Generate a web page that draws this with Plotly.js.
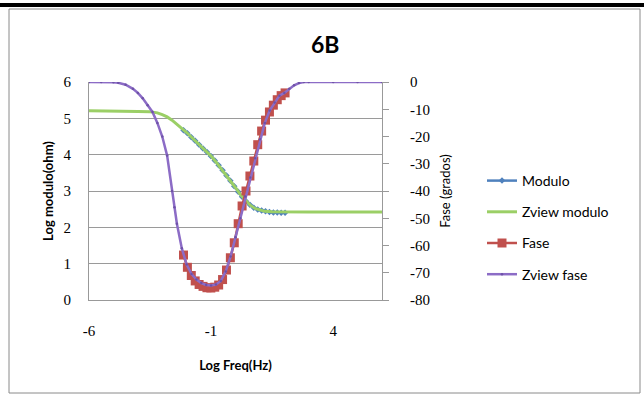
<!DOCTYPE html>
<html>
<head>
<meta charset="utf-8">
<script src="https://cdn.plot.ly/plotly-3.0.1.min.js"></script>
<style>html,body{margin:0;padding:0;background:#fff;}#chart{width:644px;height:394px;}</style>
</head>
<body>
<div id="chart"></div>
<script>
// Measured data (Log Freq in Hz)
const measX = [-2.13,-1.97,-1.81,-1.65,-1.49,-1.33,-1.17,-1.01,-0.85,-0.69,-0.53,-0.37,-0.21,-0.05,0.11,0.27,0.43,0.59,0.75,0.91,1.07,1.23,1.39,1.55,1.71,1.87,2.03];
const moduloY = [4.67,4.59,4.48,4.38,4.27,4.17,4.07,3.96,3.84,3.71,3.57,3.43,3.28,3.13,2.98,2.84,2.72,2.62,2.54,2.49,2.46,2.44,2.42,2.41,2.41,2.40,2.40];
const faseY = [-63.5,-68,-71,-73,-74.3,-75,-75.5,-75.6,-75.3,-74.5,-72.5,-69,-64.5,-59,-52,-45.5,-40,-34.5,-29,-23,-18,-14,-11,-8.5,-6.5,-5,-4];

// Zview fitted curves
const zvModX = [-6,-5,-4.5,-4,-3.5,-3.2,-3.0,-2.8,-2.6,-2.4,-2.2,-2.0,-1.8,-1.6,-1.4,-1.2,-1.0,-0.8,-0.6,-0.4,-0.2,0.0,0.2,0.4,0.6,0.8,1.0,1.2,1.5,2.0,3,4,5,6];
const zvModY = [5.21,5.21,5.20,5.19,5.18,5.15,5.10,5.04,4.95,4.84,4.72,4.61,4.48,4.35,4.22,4.09,3.96,3.80,3.63,3.45,3.27,3.09,2.90,2.74,2.61,2.52,2.47,2.44,2.43,2.42,2.42,2.42,2.42,2.42];
const zvFaseX = [-6,-5.5,-5,-4.8,-4.5,-4.2,-4.0,-3.8,-3.6,-3.4,-3.2,-3.0,-2.8,-2.6,-2.5,-2.4,-2.2,-2.0,-1.8,-1.6,-1.4,-1.2,-1.0,-0.8,-0.6,-0.4,-0.2,0.0,0.2,0.4,0.6,0.8,1.0,1.2,1.4,1.6,1.8,2.0,2.2,2.4,2.6,2.8,3,4,5,6];
const zvFaseY = [0,0,-0.1,-0.3,-1,-2.5,-4,-6,-8.5,-11,-15,-20,-27,-40,-46,-52,-61,-67,-70.5,-72.5,-73.8,-74.5,-74.7,-74.3,-73,-69.5,-64,-57,-50,-42,-35,-28,-21,-15,-10.5,-7.5,-5,-4,-2.5,-1.2,-0.4,0,0,0,0,0];

// Axis ticks
const xTicks = [-6,-1,4];
const yTicks = [0,1,2,3,4,5,6];
const y2Ticks = [0,-10,-20,-30,-40,-50,-60,-70,-80];

const L=89,R=382,T=82,B=300;
const px = x => (x-L)/(R-L);
const py = y => (B-y)/(B-T);

const serif = {family:'"Liberation Serif", serif', size:15, color:'#000'};
const sans = 'Lato, "Open Sans", sans-serif';

const traces = [
  {name:'Modulo', x:measX, y:moduloY, type:'scatter', mode:'lines+markers', legendgroup:'a',
   line:{color:'#4F81BD', width:2.5}, marker:{symbol:'diamond', size:5, color:'#4F81BD'}},
  {name:'Zview modulo', x:zvModX, y:zvModY, type:'scatter', mode:'lines', legendgroup:'b',
   line:{color:'#9BCF66', width:3}},
  {name:'Fase', x:measX, y:faseY, yaxis:'y2', type:'scatter', mode:'lines+markers', legendgroup:'c',
   line:{color:'#C0504D', width:2.5}, marker:{symbol:'square', size:9, color:'#C0504D'}},
  {name:'Zview fase', x:zvFaseX, y:zvFaseY, yaxis:'y2', type:'scatter', mode:'lines+markers', legendgroup:'d',
   line:{color:'#8C6CC6', width:2.5}, marker:{size:2.5, color:'#6E52A8'}}
];

const layout = {
  width:644, height:394,
  margin:{l:L, r:644-R, t:T, b:394-B, pad:0},
  paper_bgcolor:'#fff', plot_bgcolor:'#fff',
  showlegend:true,
  title:{text:'<b>6B</b>', font:{family:sans, size:23, color:'#000'}, xref:'container', yref:'container', x:0.505, y:1-45/394, xanchor:'center', yanchor:'middle'},
  xaxis:{range:[-6,6], tickvals:xTicks, ticktext:xTicks.map(String), showgrid:false, zeroline:false,
    showline:true, linecolor:'#999', linewidth:1, ticks:'', ticklabelstandoff:17, tickfont:serif,
    title:{text:'<b>Log Freq(Hz)</b>', font:{family:sans, size:13, color:'#000'}, standoff:22}},
  yaxis:{range:[0,6], tickvals:yTicks, ticktext:yTicks.map(String), showgrid:true, gridcolor:'#9a9a9a', gridwidth:1,
    zeroline:false, showline:true, linecolor:'#999', linewidth:1, ticks:'', ticklabelstandoff:14, tickfont:serif,
    title:{text:'<b>Log modulo(ohm)</b>', font:{family:sans, size:13, color:'#000'}, standoff:6}},
  yaxis2:{range:[-80,0], overlaying:'y', side:'right', tickvals:y2Ticks, ticktext:y2Ticks.map(String), showgrid:false,
    zeroline:false, showline:true, linecolor:'#999', linewidth:1, ticks:'outside', ticklen:6, tickcolor:'#999',
    ticklabelstandoff:18, tickfont:serif,
    title:{text:'Fase (grados)', font:{family:sans, size:13, color:'#000'}, standoff:11}},
  legend:{x:px(482), y:py(165), xanchor:'left', yanchor:'top', tracegroupgap:10, bgcolor:'rgba(0,0,0,0)',
    font:{family:sans, size:14, color:'#000'}},
  shapes:[
    {type:'line', xref:'paper', yref:'paper', x0:px(0), x1:px(644), y0:py(5), y1:py(5), line:{color:'#000', width:4}},
    {type:'rect', xref:'paper', yref:'paper', x0:px(9), x1:px(640), y0:py(393), y1:py(9), line:{color:'#8a8a8a', width:1}, layer:'below'}
  ]
};

Plotly.newPlot('chart', traces, layout, {displayModeBar:false, staticPlot:true});
</script>
</body>
</html>
